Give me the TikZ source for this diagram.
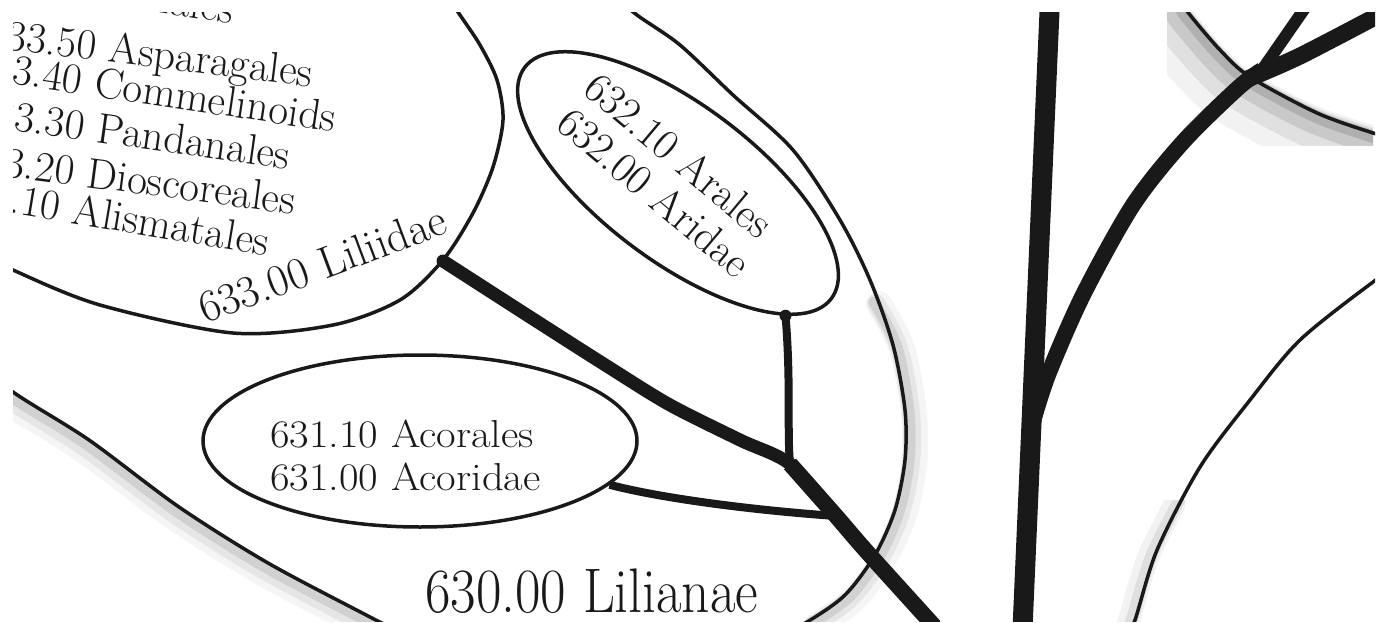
\documentclass[tikz,border=0pt]{standalone}
\usepackage{fontspec}
\usetikzlibrary{shapes.geometric}
\begin{document}
\begin{tikzpicture}[x=1pt,y=-1pt,
  outline/.style={draw=black!90, line width=3.5pt},
  trunk/.style={draw=black!90, line width=13pt},
  twig/.style={draw=black!90, line width=8pt},
  knot/.style={circle, fill=black!90, inner sep=0pt, minimum size=13pt},
  oval/.style={ellipse, draw=black!90, line width=3.5pt, inner sep=0pt},
  lab/.style={inner sep=0pt, text=black!90},
  lilfont/.style={font=\fontsize{43}{48}\selectfont\addfontfeatures{FakeBold=0.25}},
  shade/.style={draw=black, line cap=round},
]
\useasboundingbox (0,0) rectangle (1383,623);
\fill[white] (0,0) rectangle (1383,623);

% ---------------- left panel ----------------
\begin{scope}
\clip (13,13) rectangle (940,621);
% shadows of Lilianae
\foreach \w/\o/\dx/\dy in {26/0.04/-7/-9, 18/0.06/-5/-7, 11/0.09/-3/-4} {
  \draw[shade, line width=\w pt, opacity=\o, xshift=\dx pt, yshift=\dy pt]
    plot[smooth] coordinates {(-30,355) (13,392) (89,440) (179,507) (268,563) (370,617) (400,632)};
}
\foreach \w/\o/\dx/\dy in {26/0.04/9/-4, 18/0.06/6/-3, 11/0.09/4/-2} {
  \draw[shade, line width=\w pt, opacity=\o, xshift=\dx pt, yshift=\dy pt]
    plot[smooth] coordinates {(870,300) (893,345) (905,410) (905,460) (895,510) (875,555) (845,595) (807,622)};
}
% Lilianae outline
\draw[outline] plot[smooth] coordinates {(600,-15) (637,15) (680,45) (733,95) (793,150) (840,220) (870,280) (893,345) (905,410) (905,460) (895,510) (875,555) (845,595) (807,622) (770,640)};
\draw[outline] plot[smooth] coordinates {(-30,355) (13,392) (89,440) (179,507) (268,563) (370,617) (400,632)};
% Liliidae outline
\draw[outline] plot[smooth] coordinates {(-40,243) (13,270) (100,305) (233,333) (333,325) (400,300) (443,260) (473,213) (493,167) (503,120) (497,80) (480,45) (460,15) (440,-15)};
% Liliidae texts
\node[lab, lilfont, anchor=base east, rotate=-9] (l1) at (232,24) {633.60 Liliales};
\node[lab, lilfont, anchor=base west, rotate=-7] (l2) at (-14,47) {633.50 Asparagales};
\node[lab, lilfont, anchor=base west, rotate=-8.5] (l3) at (-28,78) {633.40 Commelinoids};
\node[lab, lilfont, anchor=base west, rotate=-8] (l4) at (-26,125) {633.30 Pandanales};
\node[lab, lilfont, anchor=base west, rotate=-7.5] (l5) at (-36,171) {633.20 Dioscoreales};
\node[lab, lilfont, anchor=base west, rotate=-9.5] (l6) at (-50,203) {633.10 Alismatales};
\node[lab, font=\fontsize{45}{48}\selectfont\addfontfeatures{FakeBold=0.25}, anchor=base west, rotate=20.5] (l7) at (205,324) {633.00 Liliidae};

% Aridae
\node[oval, minimum width=384pt, minimum height=156pt, rotate=-37] (arid) at (678,183) {};
\node[lab, lilfont, anchor=base west, rotate=-40] (a1) at (581,92) {632.10 Arales};
\node[lab, lilfont, anchor=base west, rotate=-40] (a2) at (554,127) {632.00 Aridae};

% Acoridae
\node[oval, minimum width=434pt, minimum height=172pt] (acor) at (420,441) {};
\node[lab, font=\fontsize{39}{43}\selectfont\addfontfeatures{FakeBold=0.25}, anchor=base west, xscale=1.09] (c1) at (270,447) {631.10 Acorales};
\node[lab, font=\fontsize{39}{43}\selectfont\addfontfeatures{FakeBold=0.25}, anchor=base west, xscale=1.09] (c2) at (270,490) {631.00 Acoridae};

% Lilianae label
\node[lab, font=\fontsize{63}{66}\selectfont\addfontfeatures{FakeBold=0.25}, anchor=base west, xscale=0.88] (lil) at (425,612) {630.00 Lilianae};

% tree
\node[knot] (lildot) at (443,261) {};
\node[knot, minimum size=12pt] (aridot) at (arid.-14) {};
\coordinate (j1) at (790,464);
\coordinate (j2) at (836,516);
\coordinate (root) at (945,638);
\draw[trunk] plot[smooth] coordinates {(lildot.center) (530,317) (610,368) (670,405) (740,440) (j1) (j2) (868,553) (root)};
\draw[draw=black!90, line width=16pt] plot[smooth] coordinates {(j1) (j2) (868,553) (root)};
\draw[twig] (aridot.center) .. controls (791,380) and (787,430) .. (j1);
\draw[twig] (acor.-13) .. controls (660,498) and (750,510) .. (j2);
\end{scope}

% ---------------- right panel ----------------
\begin{scope}
\clip (1010,13) rectangle (1375,621);
% shadow patch of upper arc
\begin{scope}
\clip (1167,13) rectangle (1373,145);
\foreach \w/\o/\dx/\dy in {60/0.05/-18/-18, 40/0.07/-12/-12, 24/0.1/-7/-7, 12/0.12/-3/-3} {
  \draw[shade, line width=\w pt, opacity=\o, xshift=\dx pt, yshift=\dy pt]
    plot[smooth] coordinates {(1180,0) (1190,15) (1220,50) (1250,77) (1317,113) (1373,133) (1400,140)};
}
\end{scope}
% shadow of lower arc
\begin{scope}
\clip (1110,500) rectangle (1185,621);
\foreach \w/\o/\dx/\dy in {22/0.05/-7/-3, 12/0.08/-4/-2} {
  \draw[shade, line width=\w pt, opacity=\o, xshift=\dx pt, yshift=\dy pt]
    plot[smooth] coordinates {(1125,640) (1135,620) (1157,550) (1200,467)};
}
\end{scope}
\draw[outline] plot[smooth] coordinates {(1180,0) (1190,15) (1220,50) (1250,77) (1317,113) (1373,133) (1400,140)};
\draw[outline] plot[smooth] coordinates {(1125,640) (1135,620) (1157,550) (1200,467) (1250,400) (1300,340) (1373,282) (1400,265)};
% stems
\coordinate (rtop) at (1050,0);
\coordinate (rbot) at (1022,640);
\draw[draw=black!90, line width=20pt] (rtop) -- (rbot);
\coordinate (rv) at (1032,425);
\coordinate (rk) at (1262,70);
\draw[draw=black!90, line width=16pt] plot[smooth] coordinates {(rv) (1048,375) (1083,295) (1133,205) (1183,142) (1238,88) (rk)};
\draw[draw=black!90, line width=17pt] plot[smooth] coordinates {(1245,80) (1300,56) (1392,8)};
\coordinate (rup) at (1314,-5);
\draw[draw=black!90, line width=12pt] (rk) -- (rup);
\end{scope}
\end{tikzpicture}
\end{document}
